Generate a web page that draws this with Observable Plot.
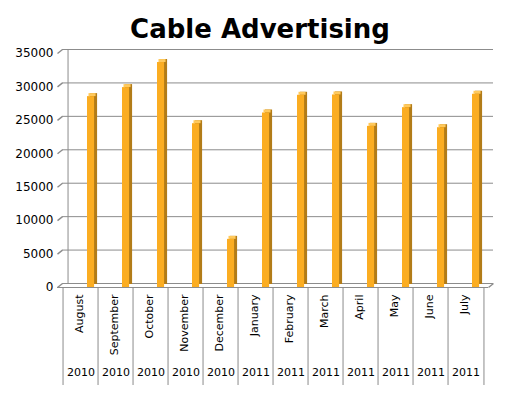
<!DOCTYPE html>
<html>
<head>
<meta charset="utf-8">
<script src="https://cdn.jsdelivr.net/npm/d3@7"></script>
<script src="https://cdn.jsdelivr.net/npm/@observablehq/plot@0.6"></script>
<style>
  html, body { margin: 0; padding: 0; background: #fff; }
  #title { width: 520px; height: 30px; padding-top: 14px; line-height: 30px; text-align: center;
           font: bold 26px "DejaVu Sans", sans-serif; color: #000; }
</style>
</head>
<body>
<div id="title">Cable Advertising</div>
<div id="chart"></div>
<script>
const months = ["August","September","October","November","December","January","February","March","April","May","June","July"];
const years = ["2010","2010","2010","2010","2010","2011","2011","2011","2011","2011","2011","2011"];
const values = [28550, 29900, 33650, 24500, 7200, 26100, 28750, 28800, 24100, 26900, 23900, 28900];
const yTicks = [0, 5000, 10000, 15000, 20000, 25000, 30000, 35000];

const data = months.map((m, i) => ({month: m, year: years[i], value: values[i]}));

const W = 520, H = 353;
const mL = 57, mR = 32, mT = 9, mB = 110;
const step = (W - mL - mR) / months.length;
const depthX = 5, depthY = -4;
const grid = "#8c8c8c";
const diag = {draw(context) { context.moveTo(0, 0); context.lineTo(depthX, depthY); }};

const barOpts = {x: "month", y: "value", insetLeft: 24, insetRight: step - 32};

const chart = Plot.plot({
  width: W, height: H,
  marginLeft: mL, marginRight: mR, marginTop: mT, marginBottom: mB,
  style: {fontFamily: "DejaVu Sans, sans-serif", fontSize: "12px", color: "#000", background: "#fff"},
  x: {domain: months, padding: 0, axis: null},
  y: {domain: [0, 35000], ticks: yTicks, tickSize: 0, tickPadding: 4, tickFormat: "d", label: null},
  marks: [
    // back wall gridlines
    Plot.ruleY(yTicks, {stroke: grid, dx: depthX, dy: depthY}),
    // left wall edge stubs
    Plot.dot(yTicks, {y: d => d, frameAnchor: "left", symbol: diag, stroke: grid, fill: "none"}),
    // back wall left edge
    Plot.ruleX([months[0]], {x: d => d, y1: 0, y2: 35000, dx: -step / 2 + depthX, dy: depthY, stroke: grid}),
    // floor front edge and right stub
    Plot.ruleY([0], {stroke: grid}),
    Plot.dot([0], {y: d => d, frameAnchor: "right", symbol: diag, stroke: grid, fill: "none"}),
    // category dividers
    Plot.ruleX(months, {x: d => d, y1: 0, y2: 0, insetBottom: -98, dx: -step / 2, stroke: grid}),
    Plot.ruleX([months[months.length - 1]], {x: d => d, y1: 0, y2: 0, insetBottom: -98, dx: step / 2, stroke: grid}),
    // 3D bars: side, top, front
    Plot.barY(data, {...barOpts, fill: "#b27c18", dx: 3, dy: -3}),
    Plot.barY(data, {x: "month", y1: "value", y2: "value", insetLeft: 24, insetRight: step - 32, insetTop: -3, dx: 1.5, fill: "#ffc95c"}),
    Plot.barY(data, {...barOpts, fill: "#fbad22"}),
    // category labels
    Plot.text(data, {x: "month", text: "month", frameAnchor: "bottom", dy: 7, dx: 2, rotate: -90, textAnchor: "end", fontSize: 11, fill: "#000"}),
    Plot.text(data, {x: "month", text: "year", frameAnchor: "bottom", dy: 88, fontSize: 11, fill: "#000"})
  ]
});
document.getElementById("chart").appendChild(chart);
</script>
</body>
</html>
